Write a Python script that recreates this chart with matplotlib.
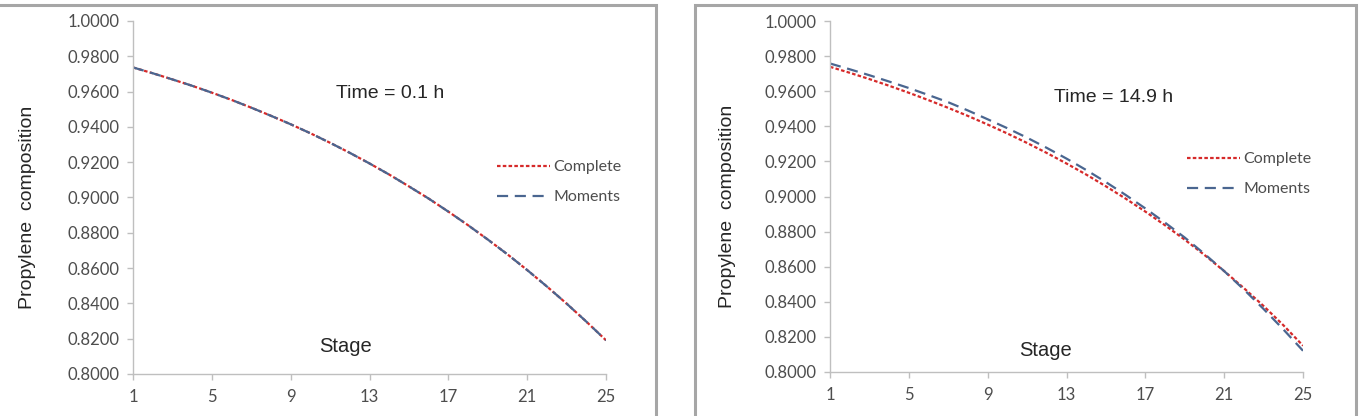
import numpy as np
import matplotlib
matplotlib.use("Agg")
import matplotlib.pyplot as plt
from matplotlib.patches import Rectangle

# ---------- data -----------------------------------------------------------
stages = np.arange(1, 26)

# Time = 0.1 h (both models overlap)
left_complete = [0.9737, 0.9704, 0.9669, 0.9633, 0.9594,
                 0.9553, 0.9509, 0.9463, 0.9415, 0.9364,
                 0.9310, 0.9253, 0.9193, 0.9130, 0.9063,
                 0.8994, 0.8920, 0.8843, 0.8762, 0.8678,
                 0.8589, 0.8496, 0.8399, 0.8297, 0.8191]
left_moments = [0.9737, 0.9704, 0.9669, 0.9633, 0.9594,
                0.9553, 0.9509, 0.9463, 0.9415, 0.9364,
                0.9310, 0.9253, 0.9193, 0.9130, 0.9063,
                0.8994, 0.8920, 0.8843, 0.8762, 0.8678,
                0.8589, 0.8496, 0.8399, 0.8297, 0.8191]

# Time = 14.9 h
right_complete = [0.9739, 0.9705, 0.9669, 0.9631, 0.9591,
                  0.9549, 0.9505, 0.9459, 0.9410, 0.9359,
                  0.9305, 0.9248, 0.9188, 0.9125, 0.9058,
                  0.8988, 0.8914, 0.8836, 0.8754, 0.8667,
                  0.8575, 0.8478, 0.8376, 0.8267, 0.8150]
right_moments = [0.9758, 0.9725, 0.9691, 0.9655, 0.9618,
                 0.9578, 0.9537, 0.9490, 0.9440, 0.9389,
                 0.9335, 0.9277, 0.9216, 0.9151, 0.9082,
                 0.9009, 0.8932, 0.8851, 0.8766, 0.8673,
                 0.8575, 0.8470, 0.8359, 0.8243, 0.8121]

panels = [
    ("Time = 0.1 h", left_complete, left_moments),
    ("Time = 14.9 h", right_complete, right_moments),
]

xticks = [1, 5, 9, 13, 17, 21, 25]
yticks = np.arange(0.80, 1.0001, 0.02)

# ---------- layout (pixel positions from reference) ------------------------
W, H = 1365, 416
fig = plt.figure(figsize=(W / 100, H / 100), dpi=100)


def fx(px):
    return px / W


def fy(py):
    return 1 - py / H


axes_px = [(133, 606, 21, 374), (830, 1303, 21, 372)]
border_px = [(-5, 656, 5, 430), (695, 1356, 5, 430)]
ylabel_x = [28, 728]
time_pos = [(390, 93), (1114, 98)]
stage_pos = [(346, 347), (1046, 350)]
legend_pos = [(497, 160), (1187, 152)]

red = "#d62a2a"
blue = "#4a6690"
grey_txt = "#4d4d4d"
tick_font = "Lato"
arial = "Liberation Sans"

for i, (title, comp, mom) in enumerate(panels):
    bx0, bx1, by0, by1 = border_px[i]
    fig.patches.append(Rectangle((fx(bx0), fy(by1)), fx(bx1) - fx(bx0),
                                 fy(by0) - fy(by1), transform=fig.transFigure,
                                 fill=False, edgecolor="#a6a6a6", lw=2.2))

    x0, x1, y0, y1 = axes_px[i]
    ax = fig.add_axes([fx(x0), fy(y1), fx(x1) - fx(x0), fy(y0) - fy(y1)])
    ax.patch.set_alpha(0)

    ax.plot(stages, comp, color=red, lw=1.6, ls=(0, (1.6, 1.0)),
            label="Complete")
    ax.plot(stages, mom, color=blue, lw=1.6, ls=(0, (5, 3)),
            label="Moments")

    ax.set_xlim(1, 25)
    ax.set_ylim(0.8, 1.0)
    ax.set_xticks(xticks)
    ax.set_yticks(yticks)
    ax.set_yticklabels([f"{v:.4f}" for v in yticks])
    for s in ["top", "right"]:
        ax.spines[s].set_visible(False)
    for s in ["left", "bottom"]:
        ax.spines[s].set_color("#bfbfbf")
        ax.spines[s].set_linewidth(1.0)
    ax.tick_params(axis="both", colors="#bfbfbf", length=4, width=1.0,
                   labelcolor=grey_txt, labelsize=12)
    ax.tick_params(axis="x", pad=7)
    ax.tick_params(axis="y", pad=6)
    for lbl in ax.get_xticklabels() + ax.get_yticklabels():
        lbl.set_fontfamily(tick_font)

    fig.text(fx(ylabel_x[i]), fy((y0 + y1) / 2 + 10), "Propylene  composition",
             rotation=90, ha="center", va="center", fontsize=14,
             family=arial, color="#262626")
    fig.text(fx(time_pos[i][0]), fy(time_pos[i][1]), title, ha="center",
             va="center", fontsize=14, family=arial, color="#262626")
    fig.text(fx(stage_pos[i][0]), fy(stage_pos[i][1]), "Stage", ha="center",
             va="center", fontsize=14.5, family=arial, color="#262626")

    ax.legend(loc="upper left", bbox_to_anchor=(fx(legend_pos[i][0]),
                                                fy(legend_pos[i][1])),
              bbox_transform=fig.transFigure, frameon=False,
              prop={"family": tick_font, "size": 11.5},
              labelcolor=grey_txt, handlelength=3.3, handletextpad=0.25,
              labelspacing=1.0, borderpad=0, borderaxespad=0)

fig.savefig("out.png", dpi=100)
